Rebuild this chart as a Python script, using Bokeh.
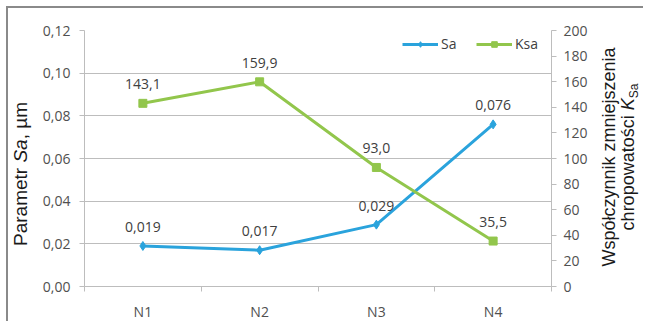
from bokeh.core.properties import value
from bokeh.embed import file_html
from bokeh.layouts import column
from bokeh.models import (ColumnDataSource, Div, FixedTicker, LabelSet, Legend,
                          LegendItem, LinearAxis, Range1d)
from bokeh.plotting import figure
from bokeh.resources import INLINE

# ---- data -------------------------------------------------------------
categories = ["N1", "N2", "N3", "N4"]
sa_values = [0.019, 0.017, 0.029, 0.076]       # Parametr Sa, µm
ksa_values = [143.1, 159.9, 93.0, 35.5]        # Współczynnik K_Sa
sa_ticks = [0.00, 0.02, 0.04, 0.06, 0.08, 0.10, 0.12]
ksa_ticks = [0, 20, 40, 60, 80, 100, 120, 140, 160, 180, 200]

# ---- styling ----------------------------------------------------------
BLUE = "#2aa3dc"
GREEN = "#92c64c"
GRID = "#bdbdbd"
TICK_TEXT = "#505050"
NUM_FONT = "Open Sans"
TITLE_FONT = "Liberation Sans"
W, H = 645, 323


def pl(v, digits):
    return f"{v:.{digits}f}".replace(".", ",")


xs = [i + 1 for i in range(len(categories))]
sa_src = ColumnDataSource(dict(x=xs, y=sa_values,
                               label=[pl(v, 3) for v in sa_values]))
ksa_src = ColumnDataSource(dict(x=xs, y=ksa_values,
                                label=[pl(v, 1) for v in ksa_values]))

p = figure(width=W - 8, height=H - 8, output_backend="svg", toolbar_location=None,
           x_range=Range1d(0.5, len(categories) + 0.5),
           y_range=Range1d(sa_ticks[0], sa_ticks[-1]),
           min_border_left=76, min_border_right=94,
           min_border_top=22, min_border_bottom=32)
p.styles = {"margin-left": "6px", "margin-top": "6px",
            "border-left": "2px solid #8a8a8a", "border-top": "2px solid #8a8a8a"}
p.outline_line_color = None
p.background_fill_color = "white"
p.border_fill_color = "white"
p.extra_y_ranges = {"ksa": Range1d(ksa_ticks[0], ksa_ticks[-1])}

# left axis (Sa)
ax = p.yaxis[0]
ax.ticker = FixedTicker(ticks=sa_ticks, minor_ticks=[])
ax.major_label_overrides = {t: pl(t, 2) for t in sa_ticks}
ax.major_tick_out = 5
ax.major_tick_in = 0
ax.minor_tick_out = 0
ax.minor_tick_in = 0
ax.major_label_standoff = 9
ax.axis_line_color = GRID
ax.major_tick_line_color = GRID
ax.major_label_text_font = NUM_FONT
ax.major_label_text_font_size = "14px"
ax.major_label_text_color = TICK_TEXT

# right axis (K_Sa)
rax = LinearAxis(y_range_name="ksa",
                 ticker=FixedTicker(ticks=ksa_ticks, minor_ticks=[]))
rax.major_label_overrides = {t: str(t) for t in ksa_ticks}
rax.major_tick_out = 5
rax.major_tick_in = 0
rax.minor_tick_out = 0
rax.minor_tick_in = 0
rax.major_label_standoff = 7
rax.axis_line_color = GRID
rax.major_tick_line_color = GRID
rax.major_label_text_font = NUM_FONT
rax.major_label_text_font_size = "14px"
rax.major_label_text_color = TICK_TEXT
p.add_layout(rax, "right")

# category axis: labels at centres, tick marks between categories
bx = p.xaxis[0]
bounds = [x - 0.5 for x in xs] + [xs[-1] + 0.5]
bx.ticker = FixedTicker(ticks=xs, minor_ticks=bounds)
bx.major_label_overrides = {x: c for x, c in zip(xs, categories)}
bx.major_tick_out = 0
bx.major_tick_in = 0
bx.minor_tick_out = 5
bx.minor_tick_in = 0
bx.minor_tick_line_color = GRID
bx.axis_line_color = GRID
bx.major_label_standoff = 10
bx.major_label_text_font = NUM_FONT
bx.major_label_text_font_size = "14px"
bx.major_label_text_color = TICK_TEXT

p.xgrid.visible = False
p.ygrid.ticker = FixedTicker(ticks=sa_ticks, minor_ticks=[])
p.ygrid.grid_line_color = GRID

# series
sa_line = p.line("x", "y", source=sa_src, line_color=BLUE, line_width=3)
sa_pts = p.scatter("x", "y", source=sa_src, marker="diamond", size=9,
                   fill_color=BLUE, line_color=BLUE)
k_line = p.line("x", "y", source=ksa_src, y_range_name="ksa",
                line_color=GREEN, line_width=3)
k_pts = p.scatter("x", "y", source=ksa_src, y_range_name="ksa", marker="square",
                  size=8, fill_color=GREEN, line_color=GREEN)

# value labels
for src, rng in ((sa_src, "default"), (ksa_src, "ksa")):
    p.add_layout(LabelSet(x="x", y="y", text="label", source=src, y_range_name=rng,
                          y_offset=19, text_align="center", text_baseline="middle",
                          text_font=value(NUM_FONT), text_font_size="14px",
                          text_color="#404040"))

legend = Legend(items=[LegendItem(label="Sa", renderers=[sa_line, sa_pts]),
                       LegendItem(label="Ksa", renderers=[k_line, k_pts])],
                orientation="horizontal", location=(318, 233),
                background_fill_alpha=0, border_line_color=None,
                glyph_width=36, glyph_height=14, label_standoff=3, spacing=15,
                padding=0, margin=0,
                label_text_font=NUM_FONT, label_text_font_size="14px",
                label_text_color="#404040")
p.add_layout(legend)

# ---- axis titles ------------------------------------------------------
# Rotated, mixed-style titles laid over the chart margins.
ROT = ("position:absolute; white-space:nowrap; text-align:center; "
       "transform:translate(-50%,-50%) rotate(-90deg); color:#1a1a1a; "
       f"font-family:'{TITLE_FONT}';")
SUB = "font-size:12px; vertical-align:-4px; line-height:0;"
titles_html = (
    f'<div style="position:relative; width:{W}px; height:{H}px; margin:0; padding:0;">'
    f'<span style="{ROT} left:20px; top:176px; font-size:19px; line-height:19px;">'
    'Parametr <i>Sa</i>, µm</span>'
    f'<span style="{ROT} left:619px; top:159px; font-size:18px; line-height:19px;">'
    'Współczynnik zmniejszenia<br>'
    f'chropowatości <i>K</i><span style="{SUB}">Sa</span></span>'
    '</div>'
)
titles = Div(text=titles_html, width=W, height=H, margin=0,
             styles={"margin-top": f"-{H}px", "pointer-events": "none",
                     "position": "relative", "z-index": "2"})

layout = column(p, titles, spacing=0)
open("out.html", "w").write(file_html(layout, INLINE))
